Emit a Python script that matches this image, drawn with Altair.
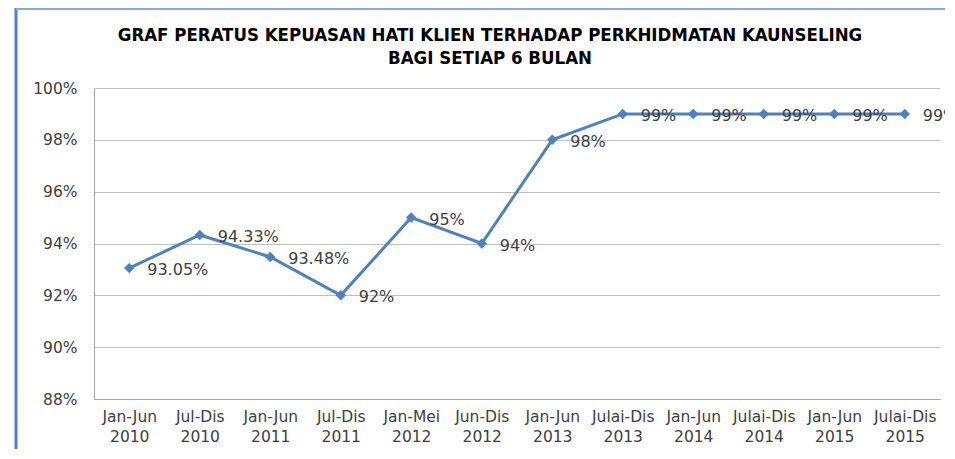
import altair as alt
import pandas as pd

periods = ["Jan-Jun 2010", "Jul-Dis 2010", "Jan-Jun 2011", "Jul-Dis 2011",
           "Jan-Mei 2012", "Jun-Dis 2012", "Jan-Jun 2013", "Julai-Dis 2013",
           "Jan-Jun 2014", "Julai-Dis 2014", "Jan-Jun 2015", "Julai-Dis 2015"]
values = [93.05, 94.33, 93.48, 92, 95, 94, 98, 99, 99, 99, 99, 99]
y_ticks = [0.88, 0.90, 0.92, 0.94, 0.96, 0.98, 1.00]
title_lines = ["GRAF PERATUS KEPUASAN HATI KLIEN TERHADAP PERKHIDMATAN KAUNSELING",
               "BAGI SETIAP 6 BULAN"]

df = pd.DataFrame({
    "period": periods,
    "value": [v / 100 for v in values],
    "label": [f"{v:g}%" for v in values],
})

W, H = 846, 311
LINE = "#4F81BD"
TXT = "#404040"
TITLE_FONT = "'Liberation Sans Narrow', 'DejaVu Sans Condensed', 'Liberation Sans'"

x = alt.X("period:N", sort=periods, title=None,
          scale=alt.Scale(paddingInner=0, paddingOuter=0.5),
          axis=alt.Axis(labelAngle=0, labelExpr="split(datum.label, ' ')",
                        labelFont="DejaVu Sans", labelFontSize=15.5, labelColor=TXT,
                        labelLineHeight=20, labelPadding=10, ticks=False,
                        domainColor="#A6A6A6", grid=False))
y = alt.Y("value:Q", title=None,
          scale=alt.Scale(domain=[0.88, 1.0], nice=False, zero=False),
          axis=alt.Axis(values=y_ticks, format=".0%", labelFont="DejaVu Sans",
                        labelFontSize=15.5, labelColor=TXT, labelPadding=17, ticks=False,
                        domainColor="#A6A6A6", gridColor="#BFBFBF", gridWidth=1))

base = alt.Chart(df)
line = base.mark_line(color=LINE, strokeWidth=3).encode(x=x, y=y)
pts = base.mark_point(shape="diamond", filled=True, size=110, color=LINE, opacity=1).encode(x=x, y=y)
labels = base.mark_text(align="left", baseline="middle", dx=18, dy=2,
                        font="DejaVu Sans", fontSize=16, color=TXT).encode(x=x, y=y, text="label:N")

one = pd.DataFrame({"a": [0]})
frame_left = alt.Chart(one).mark_rule(color="#4F81BD", strokeWidth=3).encode(
    x=alt.value(-78), y=alt.value(-80), y2=alt.value(H + 60))
frame_top = alt.Chart(one).mark_rule(color="#8EA9C8", strokeWidth=2).encode(
    x=alt.value(-78), x2=alt.value(W + 30), y=alt.value(-79))
title1 = alt.Chart(one).mark_text(text=title_lines[0], font=TITLE_FONT, fontSize=18.5,
                                  fontWeight="bold", color="#000000", align="center",
                                  baseline="middle").encode(x=alt.value(396), y=alt.value(-53))
title2 = alt.Chart(one).mark_text(text=title_lines[1], font=TITLE_FONT, fontSize=18.5,
                                  fontWeight="bold", color="#000000", align="center",
                                  baseline="middle").encode(x=alt.value(396), y=alt.value(-30))

chart = alt.layer(frame_left, frame_top, title1, title2, line, pts, labels).properties(
    width=W, height=H,
    padding={"left": 86, "top": 80, "right": 5, "bottom": 50},
    autosize=alt.AutoSizeParams(type="none"),
).configure_view(stroke=None)

chart.save("out.html", embed_options={"renderer": "svg", "actions": False})
